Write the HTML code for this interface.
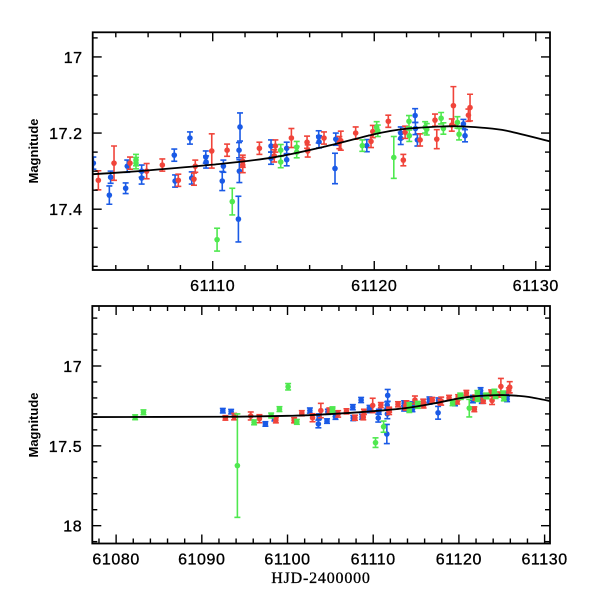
<!DOCTYPE html>
<html><head><meta charset="utf-8"><style>
html,body{margin:0;padding:0;background:#fff;}
svg text{font-family:"Liberation Sans",sans-serif;}
</style></head><body>
<svg id="chart" width="600" height="600" viewBox="0 0 600 600" xmlns="http://www.w3.org/2000/svg">
<defs>
<clipPath id="clipTop"><rect x="92.7" y="32.3" width="457.3" height="237.7"/></clipPath>
<clipPath id="clipBot"><rect x="92.3" y="306" width="457.7" height="239"/></clipPath>
</defs>
</svg>
<script>
// ---- data ----
const blueDays=[61102.61,61103.60,61103.68,61104.61,61104.71,61105.60,61105.60,61107.62,61107.67,61108.59,61108.70,61109.57,61109.59,61110.59,61110.66,61111.63,61111.69,61111.65,61111.59,61113.61,61113.61,61114.58,61114.58,61116.56,61116.58,61117.62,61117.57,61119.54,61121.64,61121.64,61122.53,61122.55,61122.67,61125.52,61125.62,61092.45,61093.42,61097.42,61098.47];
const blueMags=[17.279,17.363,17.316,17.345,17.287,17.300,17.318,17.258,17.326,17.213,17.318,17.263,17.276,17.326,17.287,17.245,17.184,17.300,17.426,17.234,17.266,17.240,17.270,17.210,17.223,17.216,17.293,17.233,17.200,17.214,17.154,17.188,17.218,17.176,17.207,17.280,17.286,17.363,17.330];
const blueErrs=[0.016,0.024,0.016,0.014,0.016,0.016,0.016,0.016,0.016,0.016,0.016,0.016,0.016,0.025,0.016,0.02,0.037,0.03,0.06,0.016,0.016,0.016,0.016,0.016,0.016,0.016,0.04,0.016,0.016,0.016,0.018,0.016,0.016,0.012,0.016,0.014,0.014,0.014,0.014];
const redDays=[61102.92,61103.89,61104.88,61105.91,61106.88,61107.87,61108.84,61108.92,61109.94,61110.89,61111.86,61111.86,61112.89,61113.81,61113.88,61114.87,61115.84,61115.88,61116.89,61117.84,61117.93,61118.85,61119.80,61119.91,61120.87,61121.80,61121.91,61122.84,61123.76,61123.87,61124.80,61124.90,61125.83,61125.93,61092.75,61093.77,61095.71,61096.72,61098.64,61100.77,61101.67];
const redMags=[17.324,17.279,17.279,17.300,17.284,17.324,17.321,17.287,17.247,17.245,17.274,17.284,17.240,17.260,17.234,17.213,17.224,17.247,17.213,17.225,17.220,17.200,17.222,17.196,17.169,17.271,17.198,17.218,17.166,17.216,17.179,17.128,17.153,17.133,17.325,17.317,17.313,17.330,17.340,17.340,17.296];
const redErrs=[0.025,0.045,0.016,0.02,0.016,0.016,0.016,0.016,0.045,0.016,0.016,0.02,0.016,0.016,0.016,0.025,0.016,0.016,0.016,0.016,0.025,0.016,0.016,0.016,0.016,0.015,0.016,0.016,0.016,0.025,0.016,0.05,0.016,0.035,0.014,0.02,0.025,0.025,0.016,0.016,0.016];
const greenDays=[61105.25,61105.25,61110.27,61111.21,61114.21,61114.21,61115.20,61115.20,61119.26,61120.15,61120.22,61121.21,61122.15,61122.17,61123.15,61123.25,61124.14,61124.28,61125.15,61125.25,61082.22,61083.19,61094.15,61096.10,61098.09,61099.06,61100.07,61101.09];
const greenMags=[17.279,17.271,17.480,17.380,17.245,17.276,17.237,17.250,17.233,17.185,17.194,17.264,17.169,17.207,17.185,17.190,17.161,17.188,17.172,17.203,17.321,17.290,17.624,17.353,17.310,17.270,17.130,17.350];
const greenErrs=[0.015,0.015,0.03,0.035,0.015,0.015,0.015,0.015,0.015,0.015,0.015,0.055,0.015,0.015,0.015,0.015,0.015,0.015,0.015,0.015,0.015,0.015,0.324,0.015,0.015,0.015,0.02,0.015];
const modelDays=[61077,61092,61097,61100,61102.6,61106,61110,61113.75,61117,61120,61121.7,61123.5,61125.1,61126.7,61128.2,61130.9];
const modelMags=[17.320,17.318,17.315,17.312,17.308,17.298,17.283,17.264,17.235,17.203,17.190,17.184,17.182,17.186,17.194,17.222];
const topXTicks=[61110,61120,61130];
const topYTicks=[17,17.2,17.4];
const botXTicks=[61080,61090,61100,61110,61120,61130];
const botYTicks=[17,17.5,18];

const NS="http://www.w3.org/2000/svg";
const svg=document.getElementById('chart');
function mk(tag,attrs,parent){const e=document.createElementNS(NS,tag);for(const k in attrs)e.setAttribute(k,attrs[k]);(parent||svg).appendChild(e);return e;}

const panels=[
 {name:'top',x0:92.7,x1:550,y0:32.3,y1:270,d0:61102.57,d1:61130.88,m0:16.9353,m1:17.5597,clip:'clipTop',xt:topXTicks,yt:topYTicks,xminor:2,yminor:0.05,ylab:v=>v===17?'17':v.toFixed(1),yTitleY:151},
 {name:'bottom',x0:92.3,x1:550,y0:306,y1:543.5,d0:61077.22,d1:61130.63,m0:16.6243,m1:18.1116,clip:'clipBot',xt:botXTicks,yt:botYTicks,xminor:2,yminor:0.1,ylab:v=>v===17.5?'17.5':String(v),yTitleY:425}
];
const series=[
 {name:'blue',color:'#1a5ae6',d:blueDays,m:blueMags,e:blueErrs},
 {name:'red',color:'#f0443a',d:redDays,m:redMags,e:redErrs},
 {name:'green',color:'#4fe84f',d:greenDays,m:greenMags,e:greenErrs}
];

panels.forEach(p=>{
 const xs=d=>p.x0+(d-p.d0)/(p.d1-p.d0)*(p.x1-p.x0);
 const ys=m=>p.y0+(m-p.m0)/(p.m1-p.m0)*(p.y1-p.y0);
 const g=mk('g',{});
 
 
 const plot=mk('g',{'clip-path':'url(#'+p.clip+')'},g);
 
 
 series.forEach(s=>{
  const sg=mk('g',{},plot);
  
  
  s.d.forEach((d,i)=>{
   const x=xs(d),y=ys(s.m[i]),ya=ys(s.m[i]-s.e[i]),yb=ys(s.m[i]+s.e[i]);
   const pg=mk('g',{stroke:s.color,'stroke-width':1.6,fill:s.color},sg);
   
   
   mk('line',{x1:x,x2:x,y1:ya,y2:yb},pg);
   mk('line',{x1:x-3,x2:x+3,y1:ya,y2:ya},pg);
   mk('line',{x1:x-3,x2:x+3,y1:yb,y2:yb},pg);
   mk('circle',{cx:x,cy:y,r:2.8,stroke:'none'},pg);
  });
 });
 // smooth model curve (Catmull-Rom)
 const P=modelDays.map((d,i)=>[xs(d),ys(modelMags[i])]);
 let dstr='M'+P[0][0].toFixed(2)+','+P[0][1].toFixed(2);
 for(let i=0;i<P.length-1;i++){
  const p0=P[Math.max(0,i-1)],p1=P[i],p2=P[i+1],p3=P[Math.min(P.length-1,i+2)];
  const c1=[p1[0]+(p2[0]-p0[0])/6,p1[1]+(p2[1]-p0[1])/6];
  const c2=[p2[0]-(p3[0]-p1[0])/6,p2[1]-(p3[1]-p1[1])/6];
  dstr+='C'+c1[0].toFixed(2)+','+c1[1].toFixed(2)+' '+c2[0].toFixed(2)+','+c2[1].toFixed(2)+' '+p2[0].toFixed(2)+','+p2[1].toFixed(2);
 }
 const ml=mk('path',{d:dstr,fill:'none',stroke:'#000','stroke-width':1.8,'stroke-linejoin':'round'},plot);
 
 
 const fr=mk('rect',{x:p.x0,y:p.y0,width:p.x1-p.x0,height:p.y1-p.y0,fill:'none',stroke:'#000','stroke-width':1.8},g);
 
 
 const tg=mk('g',{stroke:'#000','stroke-width':1.4},g);
 
 
 for(let d=Math.ceil(p.d0/p.xminor)*p.xminor;d<=p.d1;d+=p.xminor){
  const major=Math.abs(d/10-Math.round(d/10))<1e-6;const L=major?9:5;const x=xs(d);
  mk('line',{x1:x,x2:x,y1:p.y1,y2:p.y1-L},tg);
  mk('line',{x1:x,x2:x,y1:p.y0,y2:p.y0+L},tg);
 }
 const start=Math.ceil(p.m0/p.yminor-1e-6);
 for(let k=start;k*p.yminor<=p.m1+1e-9;k++){
  const m=k*p.yminor;const major=p.yt.some(t=>Math.abs(t-m)<1e-6)|| (p.name==='top'&&Math.abs(m/0.2-Math.round(m/0.2))<1e-6);
  const L=major?9:5;const y=ys(m);
  mk('line',{x1:p.x0,x2:p.x0+L,y1:y,y2:y},tg);
  mk('line',{x1:p.x1,x2:p.x1-L,y1:y,y2:y},tg);
 }
 p.xt.forEach(d=>{
  const t=mk('text',{x:xs(d),y:p.y1+21,'text-anchor':'middle','font-size':16,'letter-spacing':'0.6',stroke:'#000','stroke-width':0.35},g);
  t.textContent=String(d);
  
  
 });
 p.yt.forEach(m=>{
  const t=mk('text',{x:p.x0-10,y:ys(m)+6,'text-anchor':'end','font-size':16,'letter-spacing':'0.6',stroke:'#000','stroke-width':0.35},g);
  t.textContent=p.ylab(m);
  
  
 });
 const yt=mk('text',{x:38,y:p.yTitleY,'text-anchor':'middle','font-size':13,'font-weight':'bold',transform:'rotate(-90 38 '+p.yTitleY+')'},g);
 yt.textContent='Magnitude';
 
 
});
const xt=mk('text',{x:321,y:583,'text-anchor':'middle','font-size':16,'letter-spacing':'0.8',stroke:'#000','stroke-width':0.3,style:'font-family:"Liberation Serif",serif'});
xt.textContent='HJD-2400000';


</script>
</body></html>
